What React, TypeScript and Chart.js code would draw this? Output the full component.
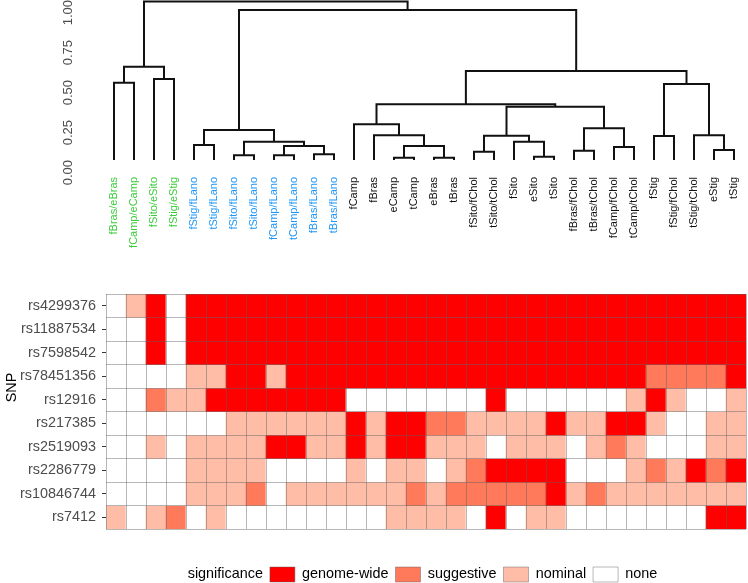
import React, { useEffect, useRef } from 'react';
import { Chart, registerables } from 'chart.js';

Chart.register(...registerables);

// ---------- dendrogram data ----------
const leafNames = [
  'fBras/eBras', 'fCamp/eCamp', 'fSito/eSito', 'fStig/eStig',
  'fStig/fLano', 'tStig/fLano', 'fSito/fLano', 'tSito/fLano',
  'fCamp/fLano', 'tCamp/fLano', 'fBras/fLano', 'tBras/fLano',
  'fCamp', 'fBras', 'eCamp', 'tCamp', 'eBras', 'tBras',
  'fSito/fChol', 'tSito/tChol', 'fSito', 'eSito', 'tSito',
  'fBras/fChol', 'tBras/tChol', 'fCamp/fChol', 'tCamp/tChol',
  'fStig', 'fStig/fChol', 'tStig/tChol', 'eStig', 'tStig',
];

const leafGroup = [
  'ester', 'ester', 'ester', 'ester',
  'lano', 'lano', 'lano', 'lano', 'lano', 'lano', 'lano', 'lano',
  'free', 'free', 'free', 'free', 'free', 'free', 'free', 'free', 'free', 'free',
  'free', 'free', 'free', 'free', 'free', 'free', 'free', 'free', 'free', 'free',
];
const groupColor: Record<string, string> = { ester: '#3CCB3C', lano: '#1E96F5', free: '#111111' };

// child ids < 32 are leaves, ids >= 32 refer to earlier merges (32 + merge index)
const mergeLeft = [0, 2, 32, 4, 6, 8, 10, 37, 36, 35, 14, 16, 42, 13, 12, 18, 21, 20, 47, 23, 25, 51, 50, 46, 27, 30, 29, 56, 55, 41, 34];
const mergeRight = [1, 3, 33, 5, 7, 9, 11, 38, 39, 40, 15, 17, 43, 44, 45, 19, 22, 48, 49, 24, 26, 52, 53, 54, 28, 31, 57, 58, 59, 60, 61];
const mergeHeight = [0.483, 0.506, 0.583, 0.094, 0.029, 0.029, 0.036, 0.0875, 0.114, 0.1875, 0.014, 0.014, 0.0875, 0.154, 0.223, 0.052, 0.021, 0.114, 0.152, 0.058, 0.081, 0.198, 0.333, 0.348, 0.15, 0.0625, 0.154, 0.475, 0.556, 0.9375, 0.99];

const heightTicks = [0, 0.25, 0.5, 0.75, 1.0];

// ---------- heatmap data (0 none, 1 nominal, 2 suggestive, 3 genome-wide) ----------
const snpNames = ['rs4299376', 'rs11887534', 'rs7598542', 'rs78451356', 'rs12916', 'rs217385', 'rs2519093', 'rs2286779', 'rs10846744', 'rs7412'];

const rs4299376 = [0, 1, 3, 0, 3, 3, 3, 3, 3, 3, 3, 3, 3, 3, 3, 3, 3, 3, 3, 3, 3, 3, 3, 3, 3, 3, 3, 3, 3, 3, 3, 3];
const rs11887534 = [0, 0, 3, 0, 3, 3, 3, 3, 3, 3, 3, 3, 3, 3, 3, 3, 3, 3, 3, 3, 3, 3, 3, 3, 3, 3, 3, 3, 3, 3, 3, 3];
const rs7598542 = [0, 0, 3, 0, 3, 3, 3, 3, 3, 3, 3, 3, 3, 3, 3, 3, 3, 3, 3, 3, 3, 3, 3, 3, 3, 3, 3, 3, 3, 3, 3, 3];
const rs78451356 = [0, 0, 0, 0, 1, 1, 3, 3, 1, 3, 3, 3, 3, 3, 3, 3, 3, 3, 3, 3, 3, 3, 3, 3, 3, 3, 3, 2, 2, 2, 2, 3];
const rs12916 = [0, 0, 2, 1, 1, 3, 3, 3, 3, 3, 3, 3, 0, 0, 0, 0, 0, 0, 0, 3, 0, 0, 0, 0, 0, 0, 1, 3, 1, 0, 0, 1];
const rs217385 = [0, 0, 0, 0, 0, 0, 1, 1, 1, 1, 1, 1, 3, 1, 3, 3, 2, 2, 1, 1, 1, 1, 3, 1, 1, 3, 3, 1, 0, 0, 1, 1];
const rs2519093 = [0, 0, 1, 0, 1, 1, 1, 1, 3, 3, 1, 1, 3, 1, 3, 3, 1, 1, 1, 0, 1, 1, 1, 0, 1, 2, 1, 0, 0, 0, 1, 1];
const rs2286779 = [0, 0, 0, 0, 1, 1, 1, 1, 0, 0, 0, 0, 1, 0, 1, 1, 0, 1, 2, 3, 3, 3, 3, 0, 0, 0, 1, 2, 1, 3, 2, 3];
const rs10846744 = [0, 0, 0, 0, 1, 1, 1, 2, 0, 1, 1, 1, 1, 1, 1, 2, 1, 2, 2, 2, 2, 2, 3, 1, 2, 1, 1, 1, 1, 1, 1, 1];
const rs7412 = [1, 0, 1, 2, 0, 1, 0, 0, 0, 0, 0, 0, 0, 0, 1, 1, 1, 1, 0, 3, 0, 1, 1, 0, 0, 0, 0, 0, 0, 0, 3, 3];

const snpRows = [rs4299376, rs11887534, rs7598542, rs78451356, rs12916, rs217385, rs2519093, rs2286779, rs10846744, rs7412];

const levelNames = ['none', 'nominal', 'suggestive', 'genome-wide'];
const levelColor = ['#FFFFFF', '#FFBDA8', '#FF7A5A', '#FF0000'];
const legendOrder = [3, 2, 1, 0];

const FONT = "'Liberation Sans', Arial, Helvetica, sans-serif";
const GRID = 'rgba(95,95,95,0.45)';

function buildSegments() {
  const nodeX: number[] = leafNames.map((_, i) => i);
  const nodeH: number[] = leafNames.map(() => 0);
  const pts: { x: number; y: number }[] = [];
  mergeLeft.forEach((l, k) => {
    const r = mergeRight[k];
    const h = mergeHeight[k];
    pts.push({ x: nodeX[l], y: nodeH[l] }, { x: nodeX[l], y: h }, { x: nodeX[r], y: h }, { x: nodeX[r], y: nodeH[r] }, { x: NaN, y: NaN });
    nodeX.push((nodeX[l] + nodeX[r]) / 2);
    nodeH.push(h);
  });
  return pts;
}

export default function App() {
  const topRef = useRef<HTMLCanvasElement>(null);
  const botRef = useRef<HTMLCanvasElement>(null);

  useEffect(() => {
    Chart.defaults.font.family = FONT;

    const top = new Chart(topRef.current as HTMLCanvasElement, {
      type: 'scatter',
      data: {
        datasets: [
          {
            data: buildSegments(),
            showLine: true,
            spanGaps: false,
            borderColor: '#111111',
            borderWidth: 2,
            borderJoinStyle: 'miter',
            borderCapStyle: 'butt',
            pointRadius: 0,
            pointHoverRadius: 0,
            tension: 0,
          } as any,
        ],
      },
      options: {
        animation: false,
        responsive: false,
        events: [],
        layout: { padding: { left: 0, right: 4, top: 0, bottom: 0 } },
        plugins: { legend: { display: false }, tooltip: { enabled: false } },
        scales: {
          x: {
            type: 'linear',
            min: -0.5,
            max: 31.5,
            afterBuildTicks: (s: any) => {
              s.ticks = leafNames.map((_, i) => ({ value: i }));
            },
            afterFit: (s: any) => {
              s.height = 102;
              s.paddingLeft = 0;
              s.paddingRight = 0;
            },
            grid: { display: false, drawTicks: false },
            border: { display: false },
            ticks: {
              autoSkip: false,
              minRotation: 90,
              maxRotation: 90,
              padding: 9,
              font: { size: 11 },
              color: (c: any) => groupColor[leafGroup[c.index]],
              callback: (v: any) => leafNames[v],
            },
          },
          y: {
            type: 'linear',
            min: -0.05,
            max: 1.0,
            afterBuildTicks: (s: any) => {
              s.ticks = heightTicks.map((v) => ({ value: v }));
            },
            afterFit: (s: any) => {
              s.width = 104;
              s.paddingTop = 0;
              s.paddingBottom = 0;
            },
            grid: { display: false, drawTicks: false },
            border: { display: false },
            ticks: {
              minRotation: 90,
              maxRotation: 90,
              padding: 36,
              font: { size: 13 },
              color: '#4D4D4D',
              callback: (v: any) => Number(v).toFixed(2),
            },
          },
        },
      } as any,
    });

    const clear = 'rgba(0,0,0,0)';
    const legendItems = () => [
      { text: 'significance', fillStyle: clear, strokeStyle: clear, lineWidth: 0, hidden: false, fontColor: '#000000' },
      ...legendOrder.map((lv) => ({
        text: levelNames[lv],
        fillStyle: levelColor[lv],
        strokeStyle: GRID,
        lineWidth: 1,
        hidden: false,
        fontColor: '#000000',
      })),
      { text: '', fillStyle: clear, strokeStyle: clear, lineWidth: 0, hidden: false, fontColor: '#000000' },
    ];

    const bot = new Chart(botRef.current as HTMLCanvasElement, {
      type: 'bar',
      data: {
        labels: leafNames,
        datasets: snpRows.map((vals, r) => ({
          label: snpNames[r],
          data: vals.map(() => [r - 0.5, r + 0.5]),
          backgroundColor: vals.map((v) => levelColor[v]),
          borderWidth: 0,
          barPercentage: 1,
          categoryPercentage: 1,
          grouped: false,
          xAxisID: 'x',
          yAxisID: 'y',
        })),
      },
      options: {
        animation: false,
        responsive: false,
        events: [],
        layout: { padding: { left: 0, right: 2, top: 14, bottom: 0 } },
        plugins: {
          tooltip: { enabled: false },
          legend: {
            position: 'bottom',
            align: 'center',
            fullSize: false,
            labels: {
              boxWidth: 25,
              boxHeight: 15,
              padding: 7,
              color: '#000000',
              font: { size: 14.4 },
              generateLabels: legendItems,
            },
          },
        },
        scales: {
          x: {
            type: 'category',
            offset: true,
            afterFit: (s: any) => {
              s.height = 31;
              s.paddingLeft = 0;
              s.paddingRight = 0;
            },
            grid: { display: true, offset: true, drawTicks: false, color: GRID, lineWidth: 1, z: 1 },
            border: { display: false },
            ticks: { display: false },
          },
          y: {
            type: 'linear',
            min: -0.5,
            max: 9.5,
            reverse: true,
            afterBuildTicks: (s: any) => {
              s.ticks = snpNames.map((_, i) => ({ value: i }));
            },
            afterFit: (s: any) => {
              s.width = 106;
              s.paddingTop = 0;
              s.paddingBottom = 0;
            },
            grid: { display: true, drawOnChartArea: false, drawTicks: true, tickLength: 4, tickColor: '#333333', tickWidth: 1 },
            border: { display: false },
            ticks: { padding: 6, font: { size: 14.4 }, color: '#4D4D4D', callback: (v: any) => snpNames[v] },
            title: {
              display: true,
              text: '\u00A0'.repeat(12) + 'SNP',
              color: '#000000',
              font: { size: 14.4 },
              padding: { top: 3.5, bottom: 0 },
            },
          },
          y2: {
            type: 'linear',
            position: 'right',
            min: -0.5,
            max: 9.5,
            reverse: true,
            afterBuildTicks: (s: any) => {
              s.ticks = snpNames.map((_, i) => ({ value: i - 0.5 })).concat([{ value: snpNames.length - 0.5 }]);
            },
            afterFit: (s: any) => {
              s.width = 0;
              s.paddingTop = 0;
              s.paddingBottom = 0;
            },
            grid: { display: true, drawTicks: false, color: GRID, lineWidth: 1, z: 1 },
            border: { display: false },
            ticks: { display: false },
          },
        },
      } as any,
    });

    return () => {
      top.destroy();
      bot.destroy();
    };
  }, []);

  return (
    <div style={{ position: 'absolute', left: 0, top: 0, width: 748, height: 583, overflow: 'hidden', background: '#ffffff' }}>
      <canvas ref={topRef} width={748} height={270} style={{ position: 'absolute', left: 0, top: 0, display: 'block' }} />
      <canvas ref={botRef} width={748} height={312} style={{ position: 'absolute', left: 0, top: 280, display: 'block' }} />
    </div>
  );
}
